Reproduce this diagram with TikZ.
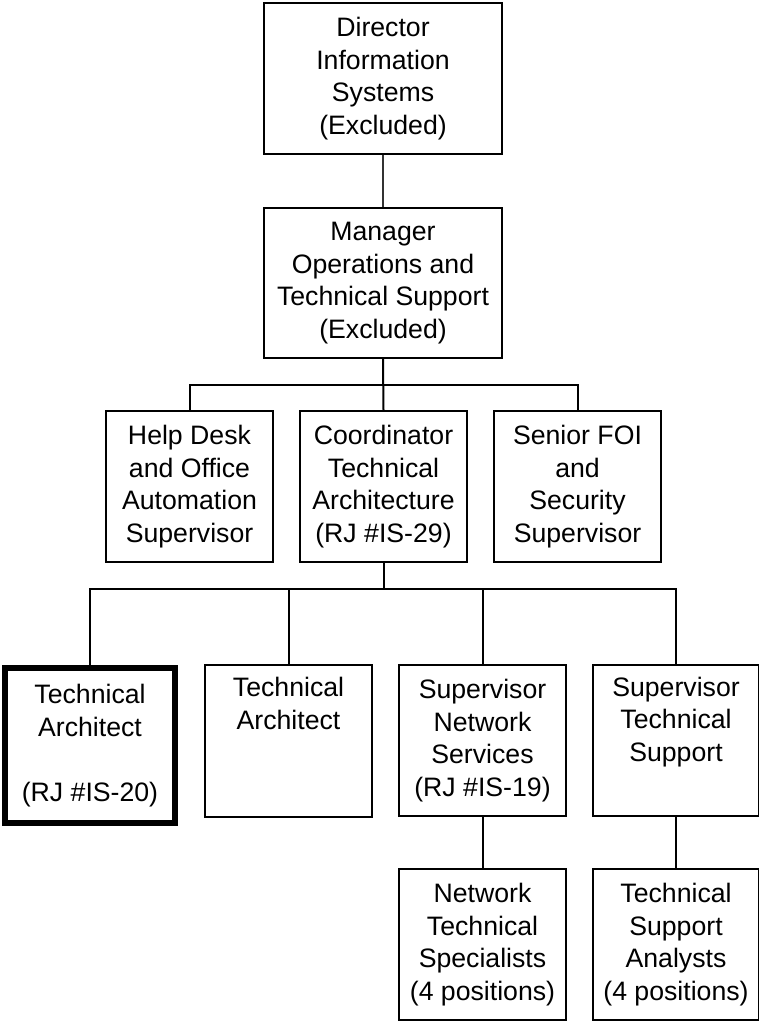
\documentclass[tikz,border=0pt]{standalone}
\usepackage{fontspec}
\setmainfont{Liberation Sans}
\begin{document}
\begin{tikzpicture}[x=0.75pt,y=-0.75pt,
  box/.style={draw=black, line width=1.5pt, inner sep=0pt, align=center,
    font=\fontsize{20}{24.6}\selectfont, minimum height=113.25pt},
  wide/.style={box, minimum width=178.5pt},
  narrow/.style={box, minimum width=125.25pt},
  heavy/.style={box, line width=4.5pt, minimum width=127.5pt, minimum height=116.25pt},
  conn/.style={draw=black, line width=1.5pt},
  thinconn/.style={draw=black!80, line width=0.8pt}]
\useasboundingbox (0,0) rectangle (758,1021);
% level 0/1
\node[wide] (dir) at (383,78.5) {Director\\Information\\Systems\\(Excluded)};
\node[wide, minimum height=112.5pt] (mgr) at (383,283) {Manager\\Operations and\\Technical Support\\(Excluded)};
% level 2
\node[narrow] (help) at (189.5,486.5) {Help Desk\\and Office\\Automation\\Supervisor};
\node[narrow] (coord) at (383.5,486.5) {Coordinator\\Technical\\Architecture\\(RJ \#IS-29)};
\node[narrow] (sen) at (577.5,486.5) {Senior FOI\\and\\Security\\Supervisor};
% level 3
\node[heavy] (taone) at (90,745.5) {Technical\\Architect\\\strut\\(RJ \#IS-20)};
\node[narrow, minimum height=114pt] (tatwo) at (288.5,741) {Technical\\Architect\\\strut\\\strut};
\node[narrow] (sn) at (482.5,740.5) {Supervisor\\Network\\Services\\(RJ \#IS-19)};
\node[narrow, minimum width=124.5pt] (st) at (676,740.5) {Supervisor\\Technical\\Support\\\strut};
% level 4
\node[narrow] (nts) at (482.5,944.5) {Network\\Technical\\Specialists\\(4 positions)};
\node[narrow, minimum width=124.5pt] (tsa) at (676,944.5) {Technical\\Support\\Analysts\\(4 positions)};
% connectors
\coordinate (btwo) at (0,385);
\coordinate (bthree) at (0,589);
\draw[thinconn] (dir.south) -- (mgr.north);
\draw[conn] (mgr.south) -- (coord.north);
\draw[conn] (help.north) |- (sen.north |- btwo) -- (sen.north);
\draw[conn] (coord.south) -- (coord.south |- bthree);
\draw[conn] (taone.north) |- (st.north |- bthree) -- (st.north);
\draw[conn] (tatwo.north) -- (tatwo.north |- bthree);
\draw[conn] (sn.north) -- (sn.north |- bthree);
\draw[conn] (sn.south) -- (nts.north);
\draw[conn] (st.south) -- (tsa.north);
\end{tikzpicture}
\end{document}
